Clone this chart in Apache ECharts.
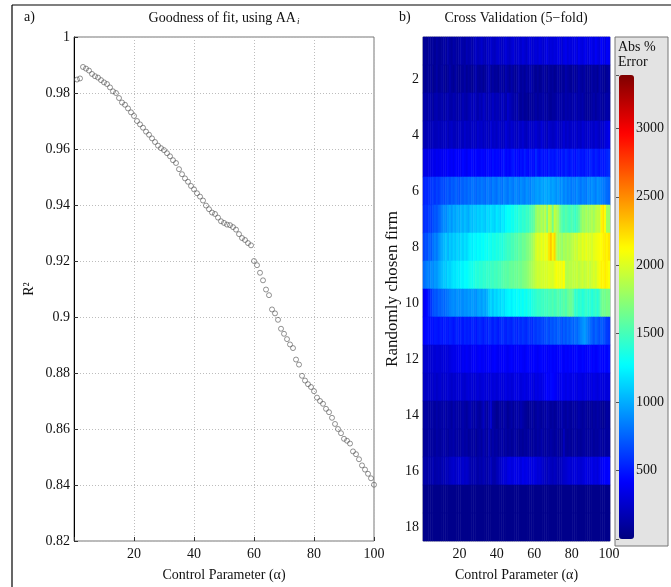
<!DOCTYPE html>
<html><head><meta charset="utf-8">
<script src="https://cdn.jsdelivr.net/npm/echarts@6/dist/echarts.min.js"></script>
<style>html,body{margin:0;padding:0;background:#fff}#c{width:671px;height:587px}</style>
</head><body><div id="c"></div>
<script>
// ---------- Panel a) data ----------
const alphaValues = [1,2,3,4,5,6,7,8,9,10,11,12,13,14,15,16,17,18,19,20,21,22,23,24,25,26,27,28,29,30,31,32,33,34,35,36,37,38,39,40,41,42,43,44,45,46,47,48,49,50,51,52,53,54,55,56,57,58,59,60,61,62,63,64,65,66,67,68,69,70,71,72,73,74,75,76,77,78,79,80,81,82,83,84,85,86,87,88,89,90,91,92,93,94,95,96,97,98,99,100];
const r2Values = [0.9848,0.9852,0.9893,0.9887,0.9880,0.9868,0.9860,0.9855,0.9846,0.9838,
0.9832,0.9820,0.9806,0.9800,0.9782,0.9766,0.9758,0.9745,0.9731,0.9718,
0.9700,0.9688,0.9676,0.9662,0.9651,0.9638,0.9625,0.9612,0.9603,0.9596,
0.9585,0.9574,0.9560,0.9550,0.9528,0.9510,0.9495,0.9483,0.9468,0.9456,
0.9442,0.9430,0.9416,0.9398,0.9385,0.9373,0.9368,0.9355,0.9342,0.9336,
0.9330,0.9328,0.9321,0.9312,0.9296,0.9282,0.9275,0.9264,0.9256,0.9200,
0.9185,0.9158,0.9131,0.9098,0.9078,0.9027,0.9013,0.8990,0.8958,0.8940,
0.8921,0.8902,0.8889,0.8848,0.8830,0.8790,0.8773,0.8760,0.8750,0.8735,
0.8712,0.8700,0.8690,0.8672,0.8660,0.8640,0.8618,0.8600,0.8585,0.8565,
0.8558,0.8548,0.8520,0.8510,0.8492,0.8470,0.8455,0.8440,0.8424,0.8401];
const leftXTicks = [20,40,60,80,100];

// ---------- Panel b) data ----------
const firmLabels = ['1','2','3','4','5','6','7','8','9','10','11','12','13','14','15','16','17','18'];
const row1 = [70,90,60,110,80,100,70,120,90,80,100,130,90,150,110,90,140,120,100,130,160,140,120,180,150,170,140,200,230,190,210,250,200,180,240,220,260,230,210,250,270,240,220,260,290,250,230,270,300,240,260,280,250,300,270,240,290,310,260,280,300,270,320,290,260,300,330,280,310,290,320,300,350,310,280,330,360,300,340,310,320,350,300,380,330,310,360,340,300,370,350,320,390,340,310,420,360,330,400,380];
const row2 = [80,60,90,70,100,60,80,130,70,90,110,80,60,100,140,90,70,120,80,60,100,90,130,70,110,80,60,120,150,90,80,110,70,100,140,180,90,120,80,100,70,130,110,90,160,120,80,140,100,70,110,150,90,120,80,130,100,160,110,90,70,100,60,80,120,90,70,110,80,100,60,90,120,70,100,80,150,110,90,70,120,80,100,160,110,90,130,70,100,80,120,90,110,70,140,100,80,60,90,110];
const row3 = [130,150,120,160,140,110,150,170,130,140,160,120,150,180,140,130,170,150,120,160,140,180,150,130,170,200,160,220,180,150,200,170,240,190,160,210,180,230,170,200,190,160,220,180,150,250,200,170,140,120,160,100,80,120,70,90,60,110,80,100,130,90,120,110,140,100,120,90,80,110,100,130,150,120,140,110,160,130,150,120,140,170,130,160,120,150,110,80,100,90,120,140,100,130,150,110,90,120,140,130];
const row4 = [180,170,190,200,180,210,190,200,220,190,210,200,230,190,220,240,200,210,190,230,220,200,250,210,230,200,240,220,210,260,230,250,210,240,220,200,280,230,250,220,260,240,210,230,290,250,220,270,240,230,210,250,230,270,220,200,240,260,230,250,280,240,220,290,250,230,200,260,240,220,230,270,250,210,240,280,230,260,220,250,240,270,230,260,220,280,250,230,270,240,260,230,280,250,220,270,240,300,320,350];
const row5 = [330,350,320,360,340,370,350,380,360,390,370,400,380,420,390,410,380,430,400,420,390,440,410,380,430,420,450,400,440,420,410,450,430,400,460,440,420,470,430,450,440,410,460,480,430,450,420,470,500,440,460,430,480,450,520,460,440,490,470,450,560,480,450,510,470,490,460,530,480,500,470,520,490,460,510,480,540,500,470,520,490,460,510,530,480,500,470,520,490,540,510,480,530,500,470,520,490,510,540,560];
const row6 = [520,560,540,580,600,620,590,640,610,660,680,660,700,720,680,740,710,760,730,700,760,740,780,750,800,770,820,790,760,810,780,830,800,770,840,810,780,850,820,790,860,830,800,870,840,810,880,850,820,890,860,830,900,870,840,910,880,850,920,900,940,960,920,980,950,1000,960,990,930,970,940,900,950,880,920,860,900,840,880,820,860,830,890,850,810,870,840,820,900,860,910,880,840,920,880,860,830,810,780,760];
const row7 = [560,600,580,640,620,680,720,700,760,800,860,900,880,940,980,920,1000,960,1020,980,1040,1000,1060,1020,990,1080,1050,1100,1070,1120,1090,1140,1110,1080,1160,1130,1180,1150,1120,1200,1170,1140,1220,1190,1260,1300,1280,1340,1310,1380,1350,1420,1390,1440,1410,1480,1450,1520,1560,1600,1750,1820,1780,1860,1800,1900,1700,1940,1880,1650,1920,1850,1780,1620,1540,1500,1560,1520,1480,1540,1500,1460,1520,1580,1700,1800,1760,1840,1780,1820,1860,1800,1880,1920,1900,2150,2200,2100,1800,1780];
const row8 = [640,700,680,760,720,800,860,820,900,960,1000,1040,1080,1020,1100,1060,1120,1080,1140,1100,1160,1120,1180,1140,1200,1240,1210,1260,1230,1280,1250,1300,1270,1320,1290,1340,1310,1360,1330,1380,1350,1400,1370,1420,1440,1480,1460,1520,1500,1560,1540,1600,1580,1640,1620,1680,1700,1740,1800,1860,1960,2020,1980,2060,2000,2080,2040,2200,2300,2150,2250,1900,1780,1820,1760,1840,1800,1860,1820,1880,1900,1960,1920,2000,1960,2040,1980,2060,2000,2020,1980,2040,2060,2080,2100,2120,2160,2180,2150,2200];
const row9 = [780,820,860,840,900,880,940,920,980,1020,1060,1100,1080,1140,1120,1160,1200,1180,1220,1200,1250,1230,1280,1260,1300,1340,1320,1360,1400,1380,1420,1400,1440,1420,1460,1440,1480,1460,1500,1480,1520,1500,1540,1560,1580,1560,1600,1620,1600,1640,1620,1660,1640,1680,1700,1720,1760,1800,1840,1880,1920,1960,1940,1980,1960,2000,1980,2020,2000,1980,2040,2100,2060,2080,2050,2120,1880,1860,1900,1880,1920,1900,1940,1880,1920,1960,1900,1940,1980,1920,1960,2000,1960,2040,2080,2160,2140,2180,2150,2100];
const row10 = [380,420,460,520,600,680,720,700,760,740,780,760,800,820,860,880,900,870,920,890,900,880,920,900,940,910,950,920,900,960,980,940,1000,960,1020,1100,1140,1080,1160,1120,1180,1140,1200,1160,1220,1240,1260,1220,1280,1250,1300,1260,1320,1280,1340,1300,1360,1320,1380,1400,1420,1460,1440,1480,1460,1500,1480,1520,1500,1540,1480,1520,1560,1500,1540,1580,1520,1600,1640,1620,1560,1420,1460,1400,1440,1380,1420,1460,1400,1440,1380,1420,1460,1400,1480,1620,1660,1640,1680,1660];
const row11 = [420,440,460,450,480,470,500,490,470,510,480,520,500,490,530,510,480,520,540,500,520,490,540,510,530,500,550,520,490,540,560,530,500,550,520,570,540,510,560,530,500,550,580,540,520,570,550,530,590,560,540,580,560,600,570,550,610,580,560,620,600,640,620,660,640,680,700,660,720,690,740,700,760,720,680,740,700,760,720,780,740,800,760,820,860,900,940,880,820,780,740,700,760,720,680,740,700,660,620,600];
const row12 = [250,270,260,280,270,290,280,300,290,280,300,290,310,300,320,340,360,350,370,380,360,390,370,400,380,360,390,410,380,400,420,390,410,380,400,420,390,410,430,400,380,410,390,420,400,380,410,430,400,390,420,400,430,410,390,420,440,410,400,430,410,390,420,440,410,430,400,420,440,410,430,400,420,450,420,400,430,410,440,420,400,430,450,420,410,440,420,400,430,450,420,440,410,430,460,440,420,450,430,460];
const row13 = [230,220,240,230,250,240,260,230,250,270,240,260,250,280,260,240,270,250,280,260,290,270,250,280,300,270,290,260,280,300,270,290,310,280,300,270,320,290,310,280,300,320,290,310,330,300,320,290,310,340,310,330,300,320,340,310,330,350,320,300,340,320,350,330,360,380,420,400,450,430,410,390,370,350,380,360,340,370,350,330,360,340,320,350,330,310,340,320,300,330,310,340,320,300,330,310,290,320,300,310];
const row14 = [100,120,110,90,130,120,100,140,110,130,120,150,110,140,130,100,160,120,140,110,130,150,120,100,140,170,130,110,150,120,100,140,220,130,110,180,250,120,100,60,80,120,90,140,110,70,100,130,90,120,140,110,160,130,100,80,60,90,110,80,100,130,110,90,120,100,140,120,90,110,80,100,130,110,150,120,100,140,110,90,130,100,120,150,110,90,120,100,80,110,90,120,100,130,110,80,60,90,110,100];
const row15 = [80,100,90,120,100,110,90,130,110,100,120,140,110,100,130,120,150,110,130,100,120,140,110,130,90,110,100,120,80,110,130,100,170,120,100,180,110,140,100,120,90,110,130,100,120,90,110,80,100,120,90,70,100,80,110,90,120,100,80,110,90,120,100,140,110,90,120,100,130,110,90,120,100,80,110,200,100,90,110,80,100,120,90,110,80,100,120,90,110,100,120,90,110,100,130,110,90,120,100,110];
const row16 = [130,150,120,160,140,170,130,150,160,140,180,160,200,190,220,240,260,230,250,270,240,260,230,250,220,160,140,170,150,130,160,140,180,150,130,170,200,150,140,180,210,240,270,300,280,320,340,310,330,350,320,340,310,360,330,350,320,340,300,330,310,280,300,260,240,220,200,230,210,190,220,200,180,210,230,250,260,280,300,270,290,310,280,300,270,290,310,330,300,320,340,310,330,300,350,380,400,420,410,430];
const row17 = [40,40,40,40,40,40,40,40,40,40,40,40,40,40,40,40,40,40,40,40,40,40,40,40,40,40,40,40,40,40,40,40,40,40,40,40,40,40,40,40,40,40,40,40,40,40,40,40,40,40,40,40,40,40,40,40,40,40,40,40,40,40,40,40,40,40,40,40,40,40,40,40,40,40,40,40,40,40,40,40,40,40,40,40,40,40,40,40,40,40,40,40,40,40,40,40,40,40,40,40];
const row18 = [40,40,40,40,40,40,40,40,40,40,40,40,40,40,40,40,40,40,40,40,40,40,40,40,40,40,40,40,40,40,40,40,40,40,40,40,40,40,40,40,40,40,40,40,40,40,40,40,40,40,40,40,40,40,40,40,40,40,40,40,40,40,40,40,40,40,40,40,40,40,40,40,40,40,40,40,40,40,40,40,40,40,40,40,40,40,40,40,40,40,40,40,40,40,40,40,40,40,40,40];
const errorRows = [row1,row2,row3,row4,row5,row6,row7,row8,row9,row10,row11,row12,row13,row14,row15,row16,row17,row18];
const colorbarTicks = [500,1000,1500,2000,2500,3000];
const colorMin = 0, colorMax = 3390;

// ---------- build ----------
const FONT = 'Liberation Serif';
const scatterData = alphaValues.map((a,i)=>[a, r2Values[i]]);
const heatData = [];
errorRows.forEach((row, r) => row.forEach((v, c) => heatData.push([c, r, v])));
const heatCats = alphaValues.map(String);

const chart = echarts.init(document.getElementById('c'), null, {renderer:'canvas'});
const txt = {fontFamily: FONT, fontSize: 14, color: '#111'};
chart.setOption({
  animation: false,
  backgroundColor: '#fff',
  textStyle: {fontFamily: FONT},
  grid: [
    {left: 74, top: 37, width: 300, height: 508, show: true, borderColor: '#777', borderWidth: 1, backgroundColor: 'transparent'},
    {left: 423, top: 37, width: 187, height: 508, show: true, borderColor: '#999', borderWidth: 1},
    {left: 619, top: 75, width: 15, height: 464, show: false}
  ],
  xAxis: [
    {gridIndex: 0, type: 'value', min: 0, max: 100, interval: 20,
     name: 'Control Parameter (α)', nameLocation: 'middle', nameGap: 27, nameTextStyle: txt,
     axisLine: {show: false}, axisTick: {inside: true, length: 4, lineStyle: {color: '#333'}},
     axisLabel: {...txt, margin: 6, formatter: v => leftXTicks.includes(v) ? String(v) : ''},
     splitLine: {show: true, lineStyle: {color: '#bdbdbd', type: [1,2], width: 1}}},
    {gridIndex: 1, type: 'category', data: heatCats, boundaryGap: true,
     name: 'Control Parameter (α)', nameLocation: 'middle', nameGap: 27, nameTextStyle: txt,
     axisLine: {show: false},
     axisTick: {show: true, inside: true, length: 4, alignWithLabel: true, interval: i => (i+1) % 20 === 0 && i < 99, lineStyle: {color: '#222'}},
     axisLabel: {...txt, margin: 6, interval: i => (i+1) % 20 === 0},
     splitLine: {show: false}},
    {gridIndex: 2, type: 'value', show: false, min: 0, max: 1}
  ],
  yAxis: [
    {gridIndex: 0, type: 'value', min: 0.82, max: 1, interval: 0.02,
     name: 'R²', nameLocation: 'middle', nameGap: 38, nameRotate: 90, nameTextStyle: txt,
     axisLine: {show: true, lineStyle: {color: '#000', width: 1}},
     axisTick: {inside: true, length: 4, lineStyle: {color: '#333'}},
     axisLabel: {...txt, margin: 4, formatter: v => String(Math.round(v*100)/100)},
     splitLine: {show: true, lineStyle: {color: '#bdbdbd', type: [1,2], width: 1}}},
    {gridIndex: 1, type: 'category', data: firmLabels, inverse: true, boundaryGap: true,
     name: 'Randomly chosen firm', nameLocation: 'middle', nameGap: 19, nameRotate: 90,
     nameTextStyle: {...txt, fontSize: 17},
     axisLine: {show: false},
     axisTick: {show: true, inside: true, length: 4, alignWithLabel: true, interval: i => (i+1) % 2 === 0, lineStyle: {color: '#222'}},
     axisLabel: {...txt, margin: 4, interval: i => (i+1) % 2 === 0},
     splitLine: {show: false}},
    {gridIndex: 2, type: 'value', min: colorMin, max: colorMax, interval: 500, position: 'right',
     axisLine: {show: false},
     axisTick: {show: true, inside: true, length: 3, lineStyle: {color: '#555'}},
     axisLabel: {...txt, margin: 2, formatter: v => colorbarTicks.includes(v) ? String(v) : ''},
     splitLine: {show: false}}
  ],
  visualMap: {
    type: 'continuous', seriesIndex: 1, min: colorMin, max: colorMax,
    left: 619, top: 75, itemWidth: 15, itemHeight: 464, padding: 0,
    calculable: false, hoverLink: false, showLabel: false, text: ['', ''], realtime: false,
    inRange: {color: ['#00007F','#0000FF','#007FFF','#00FFFF','#7FFF7F','#FFFF00','#FF7F00','#FF0000','#7F0000']}
  },
  graphic: [
    {type: 'rect', z: -10, shape: {x: 615, y: 37, width: 53, height: 509}, style: {fill: '#e3e3e3', stroke: '#777', lineWidth: 1}},
    {type: 'line', shape: {x1: 12, y1: 5, x2: 671, y2: 5}, style: {stroke: '#000', lineWidth: 1.2}},
    {type: 'line', shape: {x1: 12, y1: 5, x2: 12, y2: 587}, style: {stroke: '#000', lineWidth: 1.2}},
    {type: 'text', left: 24, top: 10, style: {text: 'a)', font: '14px "Liberation Serif"', fill: '#111'}},
    {type: 'text', left: 399, top: 10, style: {text: 'b)', font: '14px "Liberation Serif"', fill: '#111'}},
    {type: 'text', left: 618, top: 40, style: {text: 'Abs %\nError', font: '14px "Liberation Serif"', fill: '#111', lineHeight: 15}},
    {type: 'text', x: 224, y: 18, style: {text: '{a|Goodness of fit, using AA}{s|i}', textAlign: 'center', textVerticalAlign: 'middle',
      rich: {a: {fontFamily: FONT, fontSize: 14, fill: '#111', color: '#111'}, s: {fontFamily: FONT, fontSize: 9, fontStyle: 'italic', color: '#111', fill: '#111', padding: [8,0,0,1]}}}},
    {type: 'text', x: 516, y: 18, style: {text: 'Cross Validation (5−fold)', font: '14px "Liberation Serif"', fill: '#111', textAlign: 'center', textVerticalAlign: 'middle'}}
  ],
  series: [
    {type: 'scatter', xAxisIndex: 0, yAxisIndex: 0, data: scatterData, symbol: 'circle', symbolSize: 5,
     itemStyle: {color: 'rgba(0,0,0,0)', borderColor: '#555', borderWidth: 0.8}, emphasis: {disabled: true}},
    {type: 'heatmap', xAxisIndex: 1, yAxisIndex: 1, data: heatData, progressive: 0,
     itemStyle: {borderWidth: 0}, emphasis: {disabled: true}}
  ]
});
</script></body></html>
